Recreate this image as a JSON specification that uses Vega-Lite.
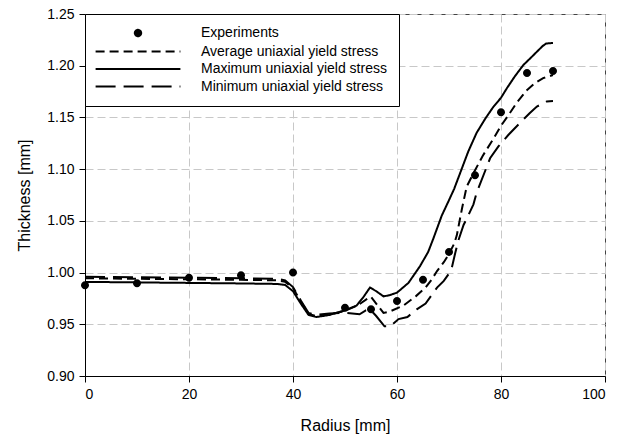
{
  "$schema": "https://vega.github.io/schema/vega-lite/v6.json",
  "width": 520,
  "height": 362,
  "autosize": "none",
  "padding": {"left": 85, "top": 14, "right": 20, "bottom": 62},
  "background": "white",
  "config": {
    "font": "Liberation Sans",
    "view": {"stroke": "#444", "strokeWidth": 1},
    "axis": {
      "grid": true,
      "gridColor": "#c8c8c8",
      "gridDash": [8, 4],
      "gridWidth": 1,
      "domainColor": "black",
      "domainWidth": 1,
      "tickColor": "black",
      "tickSize": 6,
      "labelFontSize": 14,
      "labelColor": "black",
      "labelPadding": 5,
      "titleFontSize": 16,
      "titleFontWeight": "normal",
      "titleColor": "black"
    }
  },
  "datasets": {
    "exp": [
      {"radius": 0, "thickness": 0.9877, "series": "Experiments"},
      {"radius": 10, "thickness": 0.9897, "series": "Experiments"},
      {"radius": 20, "thickness": 0.995, "series": "Experiments"},
      {"radius": 30, "thickness": 0.9974, "series": "Experiments"},
      {"radius": 40, "thickness": 1.0, "series": "Experiments"},
      {"radius": 50, "thickness": 0.966, "series": "Experiments"},
      {"radius": 55, "thickness": 0.9645, "series": "Experiments"},
      {"radius": 60, "thickness": 0.9725, "series": "Experiments"},
      {"radius": 65, "thickness": 0.993, "series": "Experiments"},
      {"radius": 70, "thickness": 1.02, "series": "Experiments"},
      {"radius": 75, "thickness": 1.094, "series": "Experiments"},
      {"radius": 80, "thickness": 1.155, "series": "Experiments"},
      {"radius": 85, "thickness": 1.193, "series": "Experiments"},
      {"radius": 90, "thickness": 1.195, "series": "Experiments"}
    ],
    "sim": [
      {"radius": 0, "thickness": 0.991, "series": "Maximum uniaxial yield stress"},
      {"radius": 10, "thickness": 0.9905, "series": "Maximum uniaxial yield stress"},
      {"radius": 20, "thickness": 0.990, "series": "Maximum uniaxial yield stress"},
      {"radius": 30, "thickness": 0.9895, "series": "Maximum uniaxial yield stress"},
      {"radius": 37, "thickness": 0.989, "series": "Maximum uniaxial yield stress"},
      {"radius": 38.5, "thickness": 0.988, "series": "Maximum uniaxial yield stress"},
      {"radius": 40, "thickness": 0.982, "series": "Maximum uniaxial yield stress"},
      {"radius": 41.5, "thickness": 0.970, "series": "Maximum uniaxial yield stress"},
      {"radius": 43, "thickness": 0.959, "series": "Maximum uniaxial yield stress"},
      {"radius": 44.5, "thickness": 0.957, "series": "Maximum uniaxial yield stress"},
      {"radius": 47, "thickness": 0.959, "series": "Maximum uniaxial yield stress"},
      {"radius": 50, "thickness": 0.9635, "series": "Maximum uniaxial yield stress"},
      {"radius": 52.2, "thickness": 0.968, "series": "Maximum uniaxial yield stress"},
      {"radius": 53.5, "thickness": 0.976, "series": "Maximum uniaxial yield stress"},
      {"radius": 54.8, "thickness": 0.9855, "series": "Maximum uniaxial yield stress"},
      {"radius": 56, "thickness": 0.982, "series": "Maximum uniaxial yield stress"},
      {"radius": 57.4, "thickness": 0.977, "series": "Maximum uniaxial yield stress"},
      {"radius": 58.5, "thickness": 0.978, "series": "Maximum uniaxial yield stress"},
      {"radius": 60, "thickness": 0.9806, "series": "Maximum uniaxial yield stress"},
      {"radius": 62.2, "thickness": 0.990, "series": "Maximum uniaxial yield stress"},
      {"radius": 64.4, "thickness": 1.006, "series": "Maximum uniaxial yield stress"},
      {"radius": 66, "thickness": 1.020, "series": "Maximum uniaxial yield stress"},
      {"radius": 67, "thickness": 1.033, "series": "Maximum uniaxial yield stress"},
      {"radius": 68.6, "thickness": 1.055, "series": "Maximum uniaxial yield stress"},
      {"radius": 70, "thickness": 1.070, "series": "Maximum uniaxial yield stress"},
      {"radius": 71, "thickness": 1.081, "series": "Maximum uniaxial yield stress"},
      {"radius": 72.2, "thickness": 1.097, "series": "Maximum uniaxial yield stress"},
      {"radius": 73.7, "thickness": 1.117, "series": "Maximum uniaxial yield stress"},
      {"radius": 75.3, "thickness": 1.135, "series": "Maximum uniaxial yield stress"},
      {"radius": 77, "thickness": 1.149, "series": "Maximum uniaxial yield stress"},
      {"radius": 78.5, "thickness": 1.160, "series": "Maximum uniaxial yield stress"},
      {"radius": 80, "thickness": 1.169, "series": "Maximum uniaxial yield stress"},
      {"radius": 81.1, "thickness": 1.178, "series": "Maximum uniaxial yield stress"},
      {"radius": 82.7, "thickness": 1.190, "series": "Maximum uniaxial yield stress"},
      {"radius": 84.3, "thickness": 1.2007, "series": "Maximum uniaxial yield stress"},
      {"radius": 85.6, "thickness": 1.207, "series": "Maximum uniaxial yield stress"},
      {"radius": 86.9, "thickness": 1.2135, "series": "Maximum uniaxial yield stress"},
      {"radius": 88, "thickness": 1.219, "series": "Maximum uniaxial yield stress"},
      {"radius": 88.7, "thickness": 1.2215, "series": "Maximum uniaxial yield stress"},
      {"radius": 90, "thickness": 1.222, "series": "Maximum uniaxial yield stress"},

      {"radius": 0, "thickness": 0.9945, "series": "Average uniaxial yield stress"},
      {"radius": 10, "thickness": 0.994, "series": "Average uniaxial yield stress"},
      {"radius": 20, "thickness": 0.9935, "series": "Average uniaxial yield stress"},
      {"radius": 30, "thickness": 0.993, "series": "Average uniaxial yield stress"},
      {"radius": 37, "thickness": 0.9925, "series": "Average uniaxial yield stress"},
      {"radius": 38.5, "thickness": 0.991, "series": "Average uniaxial yield stress"},
      {"radius": 40, "thickness": 0.985, "series": "Average uniaxial yield stress"},
      {"radius": 41.5, "thickness": 0.972, "series": "Average uniaxial yield stress"},
      {"radius": 43, "thickness": 0.960, "series": "Average uniaxial yield stress"},
      {"radius": 44.5, "thickness": 0.958, "series": "Average uniaxial yield stress"},
      {"radius": 47, "thickness": 0.9595, "series": "Average uniaxial yield stress"},
      {"radius": 50, "thickness": 0.963, "series": "Average uniaxial yield stress"},
      {"radius": 52.5, "thickness": 0.9685, "series": "Average uniaxial yield stress"},
      {"radius": 54.1, "thickness": 0.974, "series": "Average uniaxial yield stress"},
      {"radius": 55, "thickness": 0.9765, "series": "Average uniaxial yield stress"},
      {"radius": 56, "thickness": 0.970, "series": "Average uniaxial yield stress"},
      {"radius": 57.4, "thickness": 0.961, "series": "Average uniaxial yield stress"},
      {"radius": 58.7, "thickness": 0.9625, "series": "Average uniaxial yield stress"},
      {"radius": 61.2, "thickness": 0.968, "series": "Average uniaxial yield stress"},
      {"radius": 63.6, "thickness": 0.977, "series": "Average uniaxial yield stress"},
      {"radius": 65.5, "thickness": 0.9855, "series": "Average uniaxial yield stress"},
      {"radius": 66.7, "thickness": 0.9935, "series": "Average uniaxial yield stress"},
      {"radius": 67.7, "thickness": 1.0015, "series": "Average uniaxial yield stress"},
      {"radius": 69, "thickness": 1.010, "series": "Average uniaxial yield stress"},
      {"radius": 70, "thickness": 1.018, "series": "Average uniaxial yield stress"},
      {"radius": 71, "thickness": 1.028, "series": "Average uniaxial yield stress"},
      {"radius": 71.5, "thickness": 1.036, "series": "Average uniaxial yield stress"},
      {"radius": 72.5, "thickness": 1.062, "series": "Average uniaxial yield stress"},
      {"radius": 73.4, "thickness": 1.083, "series": "Average uniaxial yield stress"},
      {"radius": 74.7, "thickness": 1.096, "series": "Average uniaxial yield stress"},
      {"radius": 76.5, "thickness": 1.113, "series": "Average uniaxial yield stress"},
      {"radius": 78.5, "thickness": 1.129, "series": "Average uniaxial yield stress"},
      {"radius": 80, "thickness": 1.142, "series": "Average uniaxial yield stress"},
      {"radius": 81.4, "thickness": 1.152, "series": "Average uniaxial yield stress"},
      {"radius": 83, "thickness": 1.164, "series": "Average uniaxial yield stress"},
      {"radius": 84.9, "thickness": 1.176, "series": "Average uniaxial yield stress"},
      {"radius": 86.5, "thickness": 1.183, "series": "Average uniaxial yield stress"},
      {"radius": 88.1, "thickness": 1.188, "series": "Average uniaxial yield stress"},
      {"radius": 90, "thickness": 1.191, "series": "Average uniaxial yield stress"},

      {"radius": 0, "thickness": 0.996, "series": "Minimum uniaxial yield stress"},
      {"radius": 10, "thickness": 0.9955, "series": "Minimum uniaxial yield stress"},
      {"radius": 20, "thickness": 0.995, "series": "Minimum uniaxial yield stress"},
      {"radius": 30, "thickness": 0.9945, "series": "Minimum uniaxial yield stress"},
      {"radius": 37, "thickness": 0.994, "series": "Minimum uniaxial yield stress"},
      {"radius": 38.5, "thickness": 0.9925, "series": "Minimum uniaxial yield stress"},
      {"radius": 40, "thickness": 0.986, "series": "Minimum uniaxial yield stress"},
      {"radius": 41.5, "thickness": 0.973, "series": "Minimum uniaxial yield stress"},
      {"radius": 43, "thickness": 0.961, "series": "Minimum uniaxial yield stress"},
      {"radius": 44.5, "thickness": 0.959, "series": "Minimum uniaxial yield stress"},
      {"radius": 47, "thickness": 0.9605, "series": "Minimum uniaxial yield stress"},
      {"radius": 50.2, "thickness": 0.961, "series": "Minimum uniaxial yield stress"},
      {"radius": 52.8, "thickness": 0.9597, "series": "Minimum uniaxial yield stress"},
      {"radius": 54, "thickness": 0.9635, "series": "Minimum uniaxial yield stress"},
      {"radius": 54.8, "thickness": 0.9645, "series": "Minimum uniaxial yield stress"},
      {"radius": 56, "thickness": 0.958, "series": "Minimum uniaxial yield stress"},
      {"radius": 57.6, "thickness": 0.948, "series": "Minimum uniaxial yield stress"},
      {"radius": 58.7, "thickness": 0.948, "series": "Minimum uniaxial yield stress"},
      {"radius": 60.3, "thickness": 0.955, "series": "Minimum uniaxial yield stress"},
      {"radius": 62, "thickness": 0.957, "series": "Minimum uniaxial yield stress"},
      {"radius": 63.8, "thickness": 0.9645, "series": "Minimum uniaxial yield stress"},
      {"radius": 65.5, "thickness": 0.970, "series": "Minimum uniaxial yield stress"},
      {"radius": 67.7, "thickness": 0.9855, "series": "Minimum uniaxial yield stress"},
      {"radius": 69, "thickness": 0.992, "series": "Minimum uniaxial yield stress"},
      {"radius": 70, "thickness": 0.999, "series": "Minimum uniaxial yield stress"},
      {"radius": 70.6, "thickness": 1.006, "series": "Minimum uniaxial yield stress"},
      {"radius": 71.2, "thickness": 1.019, "series": "Minimum uniaxial yield stress"},
      {"radius": 71.8, "thickness": 1.031, "series": "Minimum uniaxial yield stress"},
      {"radius": 72.8, "thickness": 1.046, "series": "Minimum uniaxial yield stress"},
      {"radius": 73.4, "thickness": 1.052, "series": "Minimum uniaxial yield stress"},
      {"radius": 74.7, "thickness": 1.066, "series": "Minimum uniaxial yield stress"},
      {"radius": 75.3, "thickness": 1.077, "series": "Minimum uniaxial yield stress"},
      {"radius": 77.9, "thickness": 1.1105, "series": "Minimum uniaxial yield stress"},
      {"radius": 79.5, "thickness": 1.122, "series": "Minimum uniaxial yield stress"},
      {"radius": 81.4, "thickness": 1.133, "series": "Minimum uniaxial yield stress"},
      {"radius": 83.7, "thickness": 1.145, "series": "Minimum uniaxial yield stress"},
      {"radius": 85.5, "thickness": 1.154, "series": "Minimum uniaxial yield stress"},
      {"radius": 86.9, "thickness": 1.1605, "series": "Minimum uniaxial yield stress"},
      {"radius": 88.8, "thickness": 1.1655, "series": "Minimum uniaxial yield stress"},
      {"radius": 90, "thickness": 1.166, "series": "Minimum uniaxial yield stress"}
    ]
  },
  "layer": [
    {
      "data": {"name": "sim"},
      "mark": {"type": "line", "color": "black", "strokeWidth": 2},
      "encoding": {
        "x": {
          "field": "radius", "type": "quantitative",
          "scale": {"domain": [0, 100], "nice": false, "zero": false},
          "axis": {"values": [0, 20, 40, 60, 80, 100], "title": "Radius [mm]", "titlePadding": 16}
        },
        "y": {
          "field": "thickness", "type": "quantitative",
          "scale": {"domain": [0.9, 1.25], "nice": false, "zero": false},
          "axis": {"values": [0.9, 0.95, 1.0, 1.05, 1.1, 1.15, 1.2, 1.25], "format": ".2f", "title": "Thickness [mm]", "titlePadding": 14}
        },
        "strokeDash": {
          "field": "series", "type": "nominal",
          "scale": {
            "domain": ["Experiments", "Average uniaxial yield stress", "Maximum uniaxial yield stress", "Minimum uniaxial yield stress"],
            "range": [[1, 0], [9, 5], [1, 0], [20, 8]]
          },
          "legend": {
            "title": null, "orient": "top-left", "offset": 0, "padding": 12,
            "strokeColor": "black", "fillColor": "white", "cornerRadius": 0,
            "symbolSize": 64, "symbolStrokeWidth": 2, "symbolStrokeColor": "black", "symbolFillColor": "black",
            "symbolOffset": 34, "labelOffset": 56, "labelFontSize": 14, "labelLimit": 320, "labelColor": "black",
            "rowPadding": 3.5,
            "encode": {"symbols": {"update": {"fill": {"value": "black"}, "stroke": {"value": "black"}, "opacity": {"value": 1}}}}
          }
        }
      }
    },
    {
      "data": {"name": "exp"},
      "mark": {"type": "point", "filled": true, "color": "black", "size": 100, "opacity": 1},
      "encoding": {
        "x": {"field": "radius", "type": "quantitative"},
        "y": {"field": "thickness", "type": "quantitative"},
        "shape": {
          "field": "series", "type": "nominal",
          "scale": {
            "domain": ["Experiments", "Average uniaxial yield stress", "Maximum uniaxial yield stress", "Minimum uniaxial yield stress"],
            "range": ["M-0.8,0A0.8,0.8,0,1,0,0.8,0A0.8,0.8,0,1,0,-0.8,0Z", "M-10.6,0H10.6", "M-10.6,0H10.6", "M-10.6,0H10.6"]
          },
          "legend": {
            "title": null, "orient": "top-left", "offset": 0, "padding": 12,
            "strokeColor": "black", "fillColor": "white", "cornerRadius": 0,
            "symbolSize": 64, "symbolStrokeWidth": 2, "symbolStrokeColor": "black", "symbolFillColor": "black",
            "symbolOffset": 34, "labelOffset": 56, "labelFontSize": 14, "labelLimit": 320, "labelColor": "black",
            "rowPadding": 3.5,
            "encode": {"symbols": {"update": {"fill": {"value": "black"}, "stroke": {"value": "black"}, "opacity": {"value": 1}}}}
          }
        }
      }
    }
  ]
}
